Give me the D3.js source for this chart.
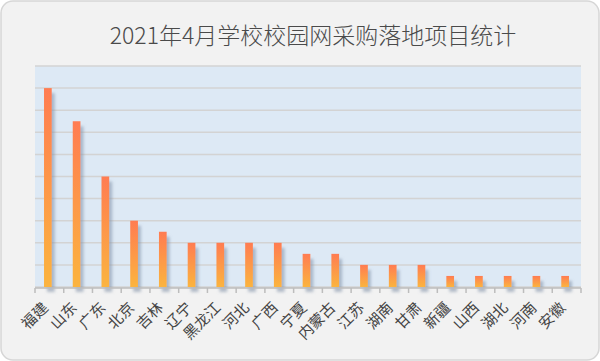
<!DOCTYPE html>
<html><head><meta charset="utf-8">
<script src="https://cdn.jsdelivr.net/npm/d3@7/dist/d3.min.js"></script>
<style>html,body{margin:0;padding:0;background:#fff;}svg{display:block;}</style>
</head><body>
<svg id="c" width="600" height="361"></svg>
<script>
const title = "2021年4月学校校园网采购落地项目统计";
const categories = ["福建","山东","广东","北京","吉林","辽宁","黑龙江","河北","广西","宁夏","内蒙古","江苏","湖南","甘肃","新疆","山西","湖北","河南","安徽"];
const values = [18,15,10,6,5,4,4,4,4,3,3,2,2,2,1,1,1,1,1];
const yTicks = [0,2,4,6,8,10,12,14,16,18,20];

const svg = d3.select("#c");
const W = 600, H = 361;
const m = {l:35, r:19, t:66, b:74};
const pw = W - m.l - m.r, ph = H - m.t - m.b;

const defs = svg.append("defs");
const g1 = defs.append("linearGradient").attr("id","bg").attr("x1",0).attr("y1",0).attr("x2",0).attr("y2",1);
g1.append("stop").attr("offset","0%").attr("stop-color","#ff7c52");
g1.append("stop").attr("offset","100%").attr("stop-color","#fbb43f");
const f = defs.append("filter").attr("id","sh").attr("x","-50%").attr("y","-20%").attr("width","250%").attr("height","150%");
f.append("feDropShadow").attr("dx",3).attr("dy",5).attr("stdDeviation",1.6).attr("flood-color","#7d8ea6").attr("flood-opacity",0.55);

svg.append("rect").attr("x",1).attr("y",1).attr("width",W-2).attr("height",H-2).attr("rx",12)
  .attr("fill","#f2f2f2").attr("stroke","#d6d6d6").attr("stroke-width",1.5);

svg.append("text").attr("x",313).attr("y",44).attr("text-anchor","middle")
  .attr("font-family","'Noto Sans CJK SC', sans-serif").attr("font-size",23).attr("fill","#4a4a4a")
  .attr("font-weight",300)
  .text(title);

const x = d3.scaleBand().domain(categories).range([m.l, m.l+pw]);
const y = d3.scaleLinear().domain([0,20]).range([m.t+ph, m.t]);

svg.append("rect").attr("x",m.l).attr("y",m.t).attr("width",pw).attr("height",ph).attr("fill","#dde9f5");

svg.append("g").selectAll("line").data(yTicks).join("line")
  .attr("x1",m.l).attr("x2",m.l+pw).attr("y1",d=>y(d)).attr("y2",d=>y(d))
  .attr("stroke","#d3d3d3").attr("stroke-width",1.5);

const bw = 7.7;
svg.append("g").attr("filter","url(#sh)").selectAll("rect").data(values).join("rect")
  .attr("x",(d,i)=>x(categories[i]) + x.bandwidth()/2 - bw/2 - 1.5)
  .attr("y",d=>y(d)).attr("width",bw).attr("height",d=>y(0)-y(d))
  .attr("fill","url(#bg)");

const ax = svg.append("g").attr("transform",`translate(0,${m.t+ph+1})`);
ax.append("line").attr("x1",m.l).attr("x2",m.l+pw).attr("stroke","#bdbdbd").attr("stroke-width",1.5);
const bounds = categories.map(c=>x(c)).concat([m.l+pw]);
ax.selectAll("line.t").data(bounds).join("line").attr("class","t")
  .attr("x1",d=>d).attr("x2",d=>d).attr("y1",0).attr("y2",5).attr("stroke","#bdbdbd").attr("stroke-width",1.5);
ax.selectAll("text").data(categories).join("text")
  .attr("transform",d=>`translate(${x(d)+x.bandwidth()/2-4},${17}) rotate(-45)`)
  .attr("text-anchor","end").attr("dy","0.35em")
  .attr("font-family","'Noto Sans CJK SC', sans-serif").attr("font-size",15).attr("fill","#444")
  .text(d=>d);
</script>
</body></html>
